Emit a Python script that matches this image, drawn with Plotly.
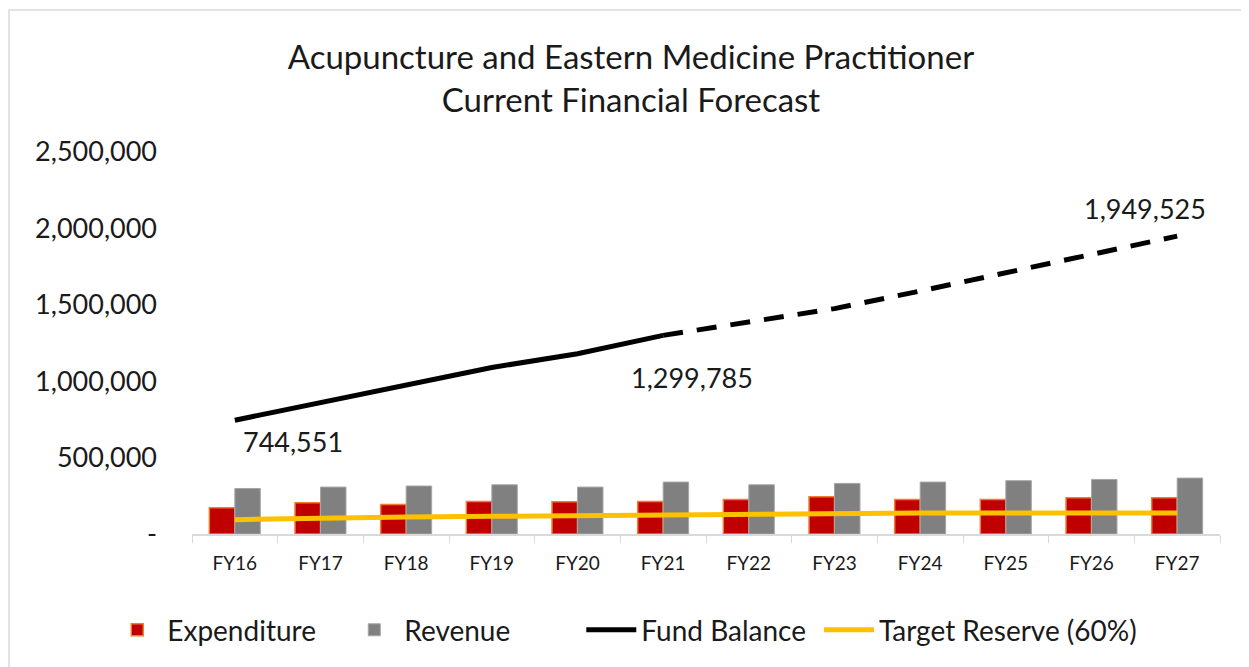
import plotly.graph_objects as go

categories = ["FY16", "FY17", "FY18", "FY19", "FY20", "FY21", "FY22", "FY23", "FY24", "FY25", "FY26", "FY27"]
expenditure = [171000, 204000, 193000, 213000, 211000, 213000, 226000, 243000, 226000, 226000, 237000, 237000]
revenue = [298000, 307000, 314000, 322000, 307000, 340000, 322000, 331000, 340000, 349000, 357000, 366000]
fund_balance = [744551, 858000, 975000, 1090000, 1180000, 1299785, 1390000, 1475000, 1590000, 1710000, 1830000, 1949525]
target_reserve = [94000, 105000, 112000, 116000, 121000, 127000, 136000, 138000, 138000, 138000, 138000, 138000]
y_tick_vals = [0, 500000, 1000000, 1500000, 2000000, 2500000]
y_tick_text = ["-", "500,000", "1,000,000", "1,500,000", "2,000,000", "2,500,000"]
labelled_idx = [0, 5, 11]
split_idx = 5

FONT = "Lato, 'Open Sans', sans-serif"
TXT = "#1a1a1a"

fig = go.Figure()
fig.add_trace(go.Bar(name="Expenditure", x=categories, y=expenditure,
                     marker=dict(color="#C00000", line=dict(color="#ED7D31", width=1.5))))
fig.add_trace(go.Bar(name="Revenue", x=categories, y=revenue,
                     marker=dict(color="#808080", line=dict(color="#A6A6A6", width=1))))
fig.add_trace(go.Scatter(name="Fund Balance", x=categories[:split_idx + 1], y=fund_balance[:split_idx + 1],
                         mode="lines", line=dict(color="black", width=5)))
fig.add_trace(go.Scatter(name="Fund Balance (forecast)", x=categories[split_idx:], y=fund_balance[split_idx:],
                         mode="lines", line=dict(color="black", width=5, dash="20px,14px"), showlegend=False))
fig.add_trace(go.Scatter(name="Target Reserve (60%)", x=categories, y=target_reserve,
                         mode="lines", line=dict(color="#FFC000", width=5), legend="legend2"))

shifts = {0: (58, -21), 5: (29, -42), 11: (-32, 28)}
for i in labelled_idx:
    dx, dy = shifts[i]
    fig.add_annotation(x=categories[i], y=fund_balance[i], text=f"{fund_balance[i]:,}",
                       showarrow=False, xshift=dx, yshift=dy,
                       font=dict(family=FONT, size=27, color=TXT))

# chart-area border (left and top edges visible in the reference)
fig.add_shape(type="rect", xref="paper", yref="paper", x0=-0.178, x1=1.05, y0=-0.5, y1=1.372,
              line=dict(color="#D9D9D9", width=1.5), fillcolor="rgba(0,0,0,0)", layer="below")

legend_common = dict(orientation="h", xref="container", yref="container", xanchor="left",
                     y=0.056, yanchor="middle", font=dict(family=FONT, size=28, color=TXT),
                     itemwidth=50, traceorder="normal", bgcolor="rgba(0,0,0,0)")

fig.update_layout(
    width=1241, height=659,
    paper_bgcolor="white", plot_bgcolor="white",
    margin=dict(l=184, r=29, t=144, b=133),
    title=dict(text="Acupuncture and Eastern Medicine Practitioner<br>Current Financial Forecast",
               x=0.502, xref="container", xanchor="center", y=0.907, yref="container", yanchor="middle",
               font=dict(family=FONT, size=33, color=TXT)),
    barmode="group", bargap=0.405, bargroupgap=0.0,
    legend=dict(x=0.08, entrywidth=172, entrywidthmode="pixels", **legend_common),
    legend2=dict(x=0.6535, **legend_common),
    xaxis=dict(showline=True, linecolor="#D9D9D9", linewidth=1.5, ticks="outside", tickson="boundaries",
               ticklen=7, tickcolor="#D9D9D9", ticklabelstandoff=11,
               tickfont=dict(family=FONT, size=19, color=TXT),
               showgrid=False, zeroline=False),
    yaxis=dict(range=[0, 2500000], tickvals=y_tick_vals, ticktext=y_tick_text, showgrid=False,
               zeroline=False, showline=False, ticks="", ticklabelstandoff=34,
               tickfont=dict(family=FONT, size=27, color=TXT)),
)

fig.write_html("out.html")
